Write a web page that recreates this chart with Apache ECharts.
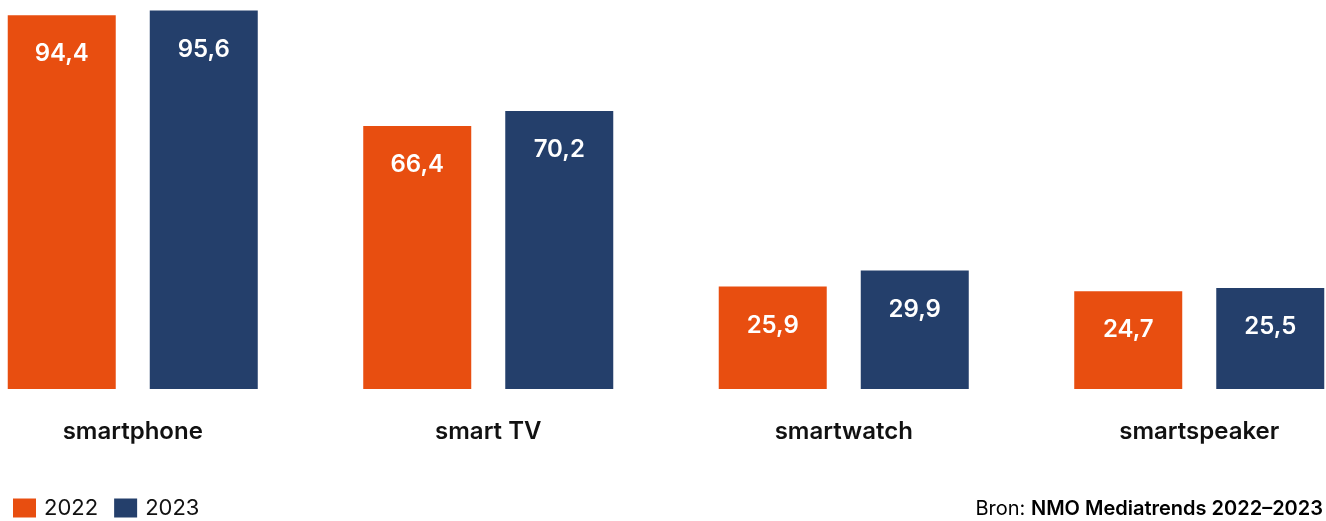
<!doctype html>
<html lang="nl">
<head>
    <meta charset="UTF-8">
    <title>Apparaten bezit 2022 - 2023</title>
    <script src="https://cdn.jsdelivr.net/npm/echarts@6/dist/echarts.min.js"></script>
    <style>
        html, body { margin: 0; padding: 0; background: #fff; }
        #main { width: 1326px; height: 521px; }
    </style>
</head>
<body>
<div id="main"></div>
<script type="text/javascript">
    var categories = ['smartphone', 'smart TV', 'smartwatch', 'smartspeaker'];
    var years = ['2022', '2023'];
    var values2022 = [94.4, 66.4, 25.9, 24.7];
    var values2023 = [95.6, 70.2, 29.9, 25.5];

    var orange = '#E84E10';
    var navy = '#243F6B';
    var font = 'Inter';

    // decimal comma like the source
    function nl(p) {
        return String(p.value.toFixed(1)).replace('.', ',');
    }

    var chart = echarts.init(document.getElementById('main'));

    var barLabel = {
        show: true,
        position: 'insideTop',
        distance: 27,
        color: '#fff',
        fontFamily: font,
        fontWeight: 600,
        fontSize: 24,
        formatter: nl
    };

    var option = {
        animation: false,
        grid: {left: -45, right: -51, top: -7, bottom: 132, containLabel: false, outerBoundsMode: 'none'},
        legend: {
            left: 8,
            bottom: -3,
            itemWidth: 23,
            itemHeight: 19,
            itemGap: 16,
            icon: 'rect',
            textStyle: {fontFamily: font, fontSize: 22, color: '#111', padding: [0, 0, 0, 3]},
            data: years
        },
        xAxis: {
            type: 'category',
            data: categories,
            axisLine: {show: false},
            axisTick: {show: false},
            axisLabel: {
                margin: 31,
                color: '#111',
                fontFamily: font,
                fontWeight: 600,
                fontSize: 24
            }
        },
        yAxis: {
            type: 'value',
            min: 0,
            max: 100,
            show: false,
            splitLine: {show: false}
        },
        series: [
            {
                name: years[0],
                type: 'bar',
                data: values2022,
                barWidth: 108,
                barGap: '31.5%',
                itemStyle: {color: orange},
                label: barLabel
            },
            {
                name: years[1],
                type: 'bar',
                data: values2023,
                barWidth: 108,
                itemStyle: {color: navy},
                label: barLabel
            }
        ],
        graphic: [{
            type: 'text',
            right: 3,
            top: 499,
            style: {
                text: '{a|Bron: }{b|NMO Mediatrends 2022–2023}',
                rich: {
                    a: {fontFamily: font, fontSize: 20, color: '#111'},
                    b: {fontFamily: font, fontSize: 20, fontWeight: 600, color: '#111'}
                }
            }
        }]
    };

    chart.setOption(option);
</script>
</body>
</html>
